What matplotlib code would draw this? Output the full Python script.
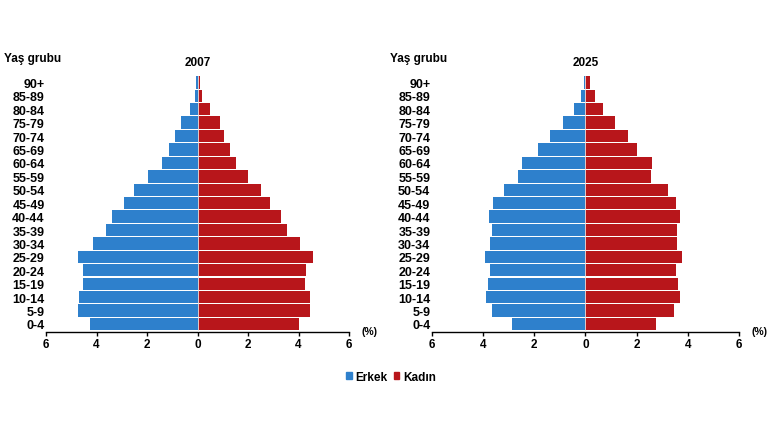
import matplotlib
matplotlib.use("Agg")
import matplotlib.pyplot as plt
from matplotlib.patches import Patch
import numpy as np

age_groups = ["0-4", "5-9", "10-14", "15-19", "20-24", "25-29", "30-34", "35-39",
              "40-44", "45-49", "50-54", "55-59", "60-64", "65-69", "70-74",
              "75-79", "80-84", "85-89", "90+"]

male_2007 = [4.24, 4.73, 4.68, 4.52, 4.52, 4.73, 4.12, 3.64, 3.40, 2.93,
             2.53, 1.96, 1.42, 1.13, 0.89, 0.66, 0.29, 0.10, 0.07]
female_2007 = [4.00, 4.44, 4.44, 4.24, 4.30, 4.57, 4.04, 3.56, 3.32, 2.87,
               2.53, 2.00, 1.52, 1.28, 1.05, 0.89, 0.49, 0.16, 0.11]

male_2025 = [2.88, 3.66, 3.87, 3.81, 3.71, 3.92, 3.71, 3.66, 3.75, 3.59,
             3.16, 2.62, 2.49, 1.86, 1.39, 0.87, 0.46, 0.18, 0.05]
female_2025 = [2.75, 3.48, 3.68, 3.63, 3.54, 3.76, 3.59, 3.59, 3.71, 3.55,
               3.22, 2.58, 2.62, 2.03, 1.68, 1.17, 0.70, 0.39, 0.20]

years = ["2007", "2025"]
x_ticks = [-6, -4, -2, 0, 2, 4, 6]
x_ticklabels = ["6", "4", "2", "0", "2", "4", "6"]

BLUE = "#2e80cc"
RED = "#b8161b"
FONT = "Liberation Sans"

W, H = 770, 431
fig = plt.figure(figsize=(W / 100, H / 100), dpi=100)

def fx(px):
    return px / W

def fy(py):
    return 1 - py / H

ax_bottom = fy(333)
ax_height = (333 - 76.7) / H
panels = [(46, 349, male_2007, female_2007), (431.7, 739, male_2025, female_2025)]

for (x0, x1, males, females), year in zip(panels, years):
    ax = fig.add_axes([fx(x0), ax_bottom, fx(x1 - x0), ax_height])
    y = np.arange(len(age_groups))
    ax.barh(y, -np.array(males), height=0.92, color=BLUE, linewidth=0)
    ax.barh(y, females, height=0.92, color=RED, linewidth=0)
    ax.axvline(0, color="#e8e8e8", linewidth=0.6, zorder=3)
    ax.set_xlim(-6, 6)
    ax.set_ylim(-0.6, 18.5)
    for s in ["top", "right", "left"]:
        ax.spines[s].set_visible(False)
    ax.spines["bottom"].set_linewidth(1.0)
    ax.set_xticks(x_ticks)
    ax.set_xticklabels(x_ticklabels, fontfamily=FONT, fontweight="bold", fontsize=8.5)
    ax.tick_params(axis="x", length=3, width=1, pad=1.5)
    ax.set_yticks(y)
    ax.set_yticklabels(age_groups, fontfamily=FONT, fontweight="bold", fontsize=9)
    ax.tick_params(axis="y", length=0, pad=1)
    ax.set_title(year, fontfamily=FONT, fontweight="bold", fontsize=8.5, pad=8)
    fig.text(fx(x0 - 42), fy(59), "Yaş grubu", fontfamily=FONT, fontweight="bold",
             fontsize=8.5, ha="left", va="center")
    fig.text(fx(x1 + 20), fy(332), "(%)", fontfamily=FONT, fontweight="bold",
             fontsize=7.5, ha="center", va="center")

handles = [Patch(color=BLUE, label="Erkek"), Patch(color=RED, label="Kadın")]
fig.legend(handles=handles, loc="center", bbox_to_anchor=(fx(391), fy(378)), ncol=2,
           frameon=False, handlelength=0.5, handleheight=0.5, handletextpad=0.3,
           columnspacing=0.5, prop={"family": FONT, "weight": "bold", "size": 8.5})

fig.savefig("out.png", dpi=100)
